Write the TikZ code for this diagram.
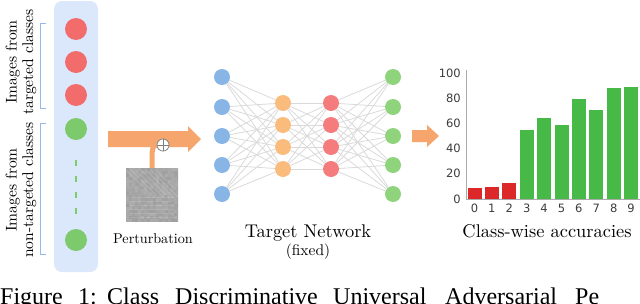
\documentclass[tikz,border=0pt]{standalone}
\usepackage{fontspec}
\usetikzlibrary{calc}
\newfontfamily\capfont{Liberation Serif}
\newfontfamily\sansf{DejaVu Sans}
\newfontfamily\cmten{lmroman10-regular.otf}
\definecolor{boxblue}{RGB}{219,231,251}
\definecolor{brkblue}{RGB}{150,185,232}
\definecolor{cred}{RGB}{242,108,108}
\definecolor{cgreen}{RGB}{124,202,108}
\definecolor{nblue}{RGB}{134,181,230}
\definecolor{norange}{RGB}{249,188,124}
\definecolor{nred}{RGB}{245,124,124}
\definecolor{ngreen}{RGB}{143,212,124}
\definecolor{edgegray}{RGB}{218,218,218}
\definecolor{orng}{RGB}{246,166,108}
\definecolor{barred}{RGB}{220,40,40}
\definecolor{bargreen}{RGB}{70,185,70}
\definecolor{axgray}{RGB}{170,170,170}
\definecolor{lblgray}{RGB}{60,60,60}
\begin{document}
\begin{tikzpicture}[x=1pt,y=-1pt,
  imgdot/.style={circle, inner sep=0pt, minimum size=22pt},
  neuron/.style={circle, inner sep=0pt, minimum size=16pt},
  edgeline/.style={edgegray, line width=0.8pt},
  brk/.style={brkblue, line width=0.9pt},
  ticklbl/.style={font=\sansf\fontsize{11.5}{13}\selectfont, text=lblgray, inner sep=0pt},
  bigtxt/.style={font=\cmten\fontsize{18.4}{20}\selectfont, inner sep=0pt, anchor=base},
  sidetxt/.style={font=\cmten\fontsize{15.5}{16.5}\selectfont, rotate=90, align=center, inner sep=0pt},
  captxt/.style={font=\capfont\fontsize{24}{26}\selectfont, anchor=base west, inner sep=0pt}
]
\path[use as bounding box] (0,0) rectangle (640,303);
\clip (0,0) rectangle (640,303);

% ---------- left panel ----------
\fill[boxblue, rounded corners=8pt] (54,1) rectangle (98,272);
\draw[brk] (46,23) -- (40,23) -- (40,108) -- (46,108);
\draw[brk] (46,123) -- (40,123) -- (40,254) -- (46,254);
\node[sidetxt] (lt1) at (21,62) {Images from\\targeted classes};
\node[sidetxt] (lt2) at (21,190) {Images from\\non-targeted classes};

\node[imgdot, fill=cred] (i1) at (76,29) {};
\node[imgdot, fill=cred] (i2) at (76,62) {};
\node[imgdot, fill=cred] (i3) at (76,95) {};
\node[imgdot, fill=cgreen] (i4) at (76,129) {};
\node[imgdot, fill=cgreen] (i5) at (76,240) {};
\coordinate (dtop) at (76,160);
\coordinate (dbot) at (76,216);
\draw[cgreen, line width=2pt, dash pattern=on 6pt off 10pt] (dtop) -- (dbot);

% ---------- input arrow with perturbation ----------
\fill[orng] (108,131) -- (188,131) -- (188,126) -- (201,139) -- (188,152) -- (188,147) -- (108,147) -- cycle;

\node[minimum width=52pt, minimum height=53pt, inner sep=0pt, fill=black!35] (pert) at (152,194.5) {};
\begin{scope}
  \clip (pert.north west) rectangle (pert.south east);
  \pgfmathsetseed{7}
  \foreach \r in {0,...,17}{
    \foreach \c in {0,...,17}{
      \pgfmathsetmacro{\sh}{32+6*rnd}
      \fill[black!\sh] ($(pert.north west)+(3*\c,3*\r)$) rectangle ++(3,3);
    }
  }
  \foreach \k in {0,5,...,30}{
    \draw[white, opacity=0.15, line width=1pt] ($(pert.north west)+(\k,2)$) -- ++(28,28);
  }
  \foreach \k in {30,34,...,50}{
    \draw[white, opacity=0.12, line width=1pt] ($(pert.north west)+(4,\k)$) -- ++(44,0);
  }
\end{scope}

\node[circle, draw=gray, fill=white, line width=0.6pt, minimum size=12pt, inner sep=0pt] (plus) at (163,145) {};
\draw[orng, line width=5pt] (pert.north) -- ++(0,-11) .. controls +(0,-7) and +(-4,0) .. (plus.west);
\node[circle, draw=gray, fill=white, line width=0.6pt, minimum size=12pt, inner sep=0pt] (plus2) at (163,145) {};
\draw[gray, line width=0.6pt] (plus2.north) -- (plus2.south);
\draw[gray, line width=0.6pt] (plus2.west) -- (plus2.east);

\node[font=\cmten\fontsize{14.2}{16}\selectfont, inner sep=0pt, anchor=base] (plbl) at (153,243) {Perturbation};

% ---------- network ----------
\foreach \i/\y in {1/77,2/107,3/136,4/165,5/194}{
  \node[neuron, fill=nblue] (a\i) at (222,\y) {};
  \node[neuron, fill=ngreen] (d\i) at (393,\y) {};
}
\foreach \i/\y in {1/103,2/125,3/147,4/169}{
  \node[neuron, fill=norange] (b\i) at (283,\y) {};
  \node[neuron, fill=nred] (c\i) at (331,\y) {};
}
\foreach \i in {1,...,5}{
  \foreach \j in {1,...,4}{
    \draw[edgeline] (a\i) -- (b\j);
    \draw[edgeline] (c\j) -- (d\i);
  }
}
\foreach \i in {1,...,4}{
  \foreach \j in {1,...,4}{
    \draw[edgeline] (b\i) -- (c\j);
  }
}
\node[bigtxt] (tn) at (308,237) {Target Network};
\node[font=\cmten\fontsize{15.5}{17}\selectfont, inner sep=0pt, anchor=base] (fx) at (308,255) {(fixed)};

% ---------- output arrow ----------
\fill[orng] (412,130) -- (427,130) -- (427,125) -- (439,136) -- (427,147) -- (427,142) -- (412,142) -- cycle;

% ---------- bar chart ----------
\foreach \k/\v in {0/8.7,1/9.8,2/12.4}{
  \fill[barred] ({474.5+17.4*\k-7},{199-1.26*\v}) rectangle ({474.5+17.4*\k+7},199);
}
\foreach \k/\v in {3/55,4/64.5,5/58.7,6/79.4,7/70.4,8/87.8,9/88.6}{
  \fill[bargreen] ({474.5+17.4*\k-7},{199-1.26*\v}) rectangle ({474.5+17.4*\k+7},199);
}
\coordinate (ytop) at (466,70);
\coordinate (orig) at (466,199.5);
\coordinate (xend) at (640,199.5);
\draw[axgray, line width=0.9pt] (ytop) -- (orig) -- (xend);
\foreach \v in {0,20,...,100}{
  \node[ticklbl, anchor=east] (yl\v) at (461,{199-1.26*\v}) {\v};
}
\foreach \k in {0,...,9}{
  \node[ticklbl, anchor=center] (xl\k) at ({474.5+17.4*\k},208.5) {\k};
}
\node[bigtxt] (cw) at (547,237) {Class-wise accuracies};

% ---------- caption (cut off at the bottom, as in the reference) ----------
\node[captxt] (cap1) at (0,304) {Figure};
\node[captxt] (cap2) at (78,304) {1:};
\node[captxt] (cap3) at (107,304) {Class};
\node[captxt] (cap4) at (175,304) {Discriminative};
\node[captxt] (cap5) at (333,304) {Universal};
\node[captxt] (cap6) at (445,304) {Adversarial};
\node[captxt] (cap7) at (575,304) {Pe};
\end{tikzpicture}
\end{document}
